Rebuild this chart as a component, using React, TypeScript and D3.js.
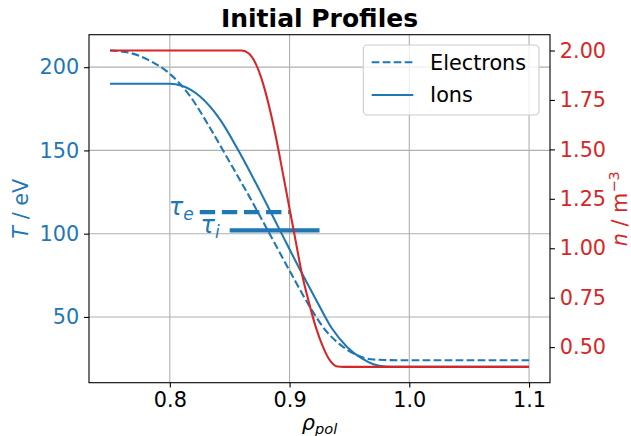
import React, { useRef, useEffect } from "react";
import * as d3 from "d3";

// electron temperature (dashed)
const RHO_E = [0.75, 0.767, 0.783, 0.8, 0.817, 0.834, 0.85, 0.867, 0.884, 0.901, 0.917, 0.93, 0.942, 0.955, 0.968, 0.98, 0.99, 1.1];
const T_E = [210, 208.5, 204, 196, 182.5, 163, 143, 121.5, 99, 76.5, 56, 42, 33.5, 27.5, 24.6, 24.1, 24, 24];

// ion temperature (solid)
const RHO_I = [0.75, 0.8, 0.81, 0.825, 0.842, 0.858, 0.875, 0.892, 0.909, 0.922, 0.935, 0.948, 0.96, 0.97, 0.98, 0.99, 1.1];
const T_I = [190, 190, 188.8, 182.5, 168.5, 149, 126, 102, 78, 60.5, 43.5, 32, 25.2, 21.6, 20.2, 20, 20];

// density (red, right axis)
const RHO_N = [0.75, 0.86, 0.866, 0.872, 0.878, 0.884, 0.89, 0.895, 0.9, 0.905, 0.91, 0.916, 0.922, 0.928, 0.934, 0.94, 0.945, 1.1];
const N_E = [2.0, 2.0, 1.985, 1.93, 1.83, 1.69, 1.52, 1.36, 1.2, 1.04, 0.88, 0.73, 0.6, 0.5, 0.43, 0.402, 0.4, 0.4];

// pedestal width markers
const TAU_E_RHO = [0.825, 0.9];
const TAU_E_T = 113;
const TAU_I_RHO = [0.85, 0.925];
const TAU_I_T = 102;

const X_TICKS = [0.8, 0.9, 1.0, 1.1];
const T_TICKS = [50, 100, 150, 200];
const N_TICKS = [0.5, 0.75, 1.0, 1.25, 1.5, 1.75, 2.0];

const BLUE = "#1f77b4";
const RED = "#d62728";
const FONT = "DejaVu Sans";

function App() {
  const svgRef = useRef<SVGSVGElement>(null);

  useEffect(() => {
    const width = 631;
    const height = 436;
    const m = { left: 89, right: 550, top: 34.7, bottom: 382.7 };

    const svg = d3.select(svgRef.current).attr("width", width).attr("height", height);
    svg.selectAll("*").remove();
    svg.style("font-family", FONT);

    const x = d3.scaleLinear().domain([0.7325, 1.1175]).range([m.left, m.right]);
    const yT = d3.scaleLinear().domain([10.5, 219.5]).range([m.bottom, m.top]);
    const yN = d3.scaleLinear().domain([0.32, 2.08]).range([m.bottom, m.top]);

    // grid
    const grid = svg.append("g").attr("stroke", "#b0b0b0").attr("stroke-width", 1.1);
    grid.selectAll("line.v").data(X_TICKS).enter().append("line")
      .attr("x1", (d) => x(d)).attr("x2", (d) => x(d))
      .attr("y1", m.top).attr("y2", m.bottom);
    grid.selectAll("line.h").data(T_TICKS).enter().append("line")
      .attr("x1", m.left).attr("x2", m.right)
      .attr("y1", (d) => yT(d)).attr("y2", (d) => yT(d));

    // temperature curves
    const lineT = d3.line<[number, number]>()
      .x((d) => x(d[0])).y((d) => yT(d[1]))
      .curve(d3.curveMonotoneX);
    svg.append("path")
      .attr("d", lineT(RHO_E.map((r, i) => [r, T_E[i]] as [number, number])))
      .attr("fill", "none").attr("stroke", BLUE).attr("stroke-width", 2.08)
      .attr("stroke-dasharray", "7.7,3.3");
    svg.append("path")
      .attr("d", lineT(RHO_I.map((r, i) => [r, T_I[i]] as [number, number])))
      .attr("fill", "none").attr("stroke", BLUE).attr("stroke-width", 2.08);

    // tau markers
    svg.append("line")
      .attr("x1", x(TAU_E_RHO[0])).attr("x2", x(TAU_E_RHO[1]))
      .attr("y1", yT(TAU_E_T)).attr("y2", yT(TAU_E_T))
      .attr("stroke", BLUE).attr("stroke-width", 4.2).attr("stroke-dasharray", "15.4,6.7");
    svg.append("line")
      .attr("x1", x(TAU_I_RHO[0])).attr("x2", x(TAU_I_RHO[1]))
      .attr("y1", yT(TAU_I_T)).attr("y2", yT(TAU_I_T))
      .attr("stroke", BLUE).attr("stroke-width", 4.2);

    const tauLabel = (xp: number, yp: number, sub: string) => {
      const t = svg.append("text")
        .attr("x", xp).attr("y", yp)
        .attr("text-anchor", "end")
        .attr("fill", BLUE)
        .style("font-size", "24px")
        .style("font-style", "italic");
      t.append("tspan").text("τ");
      t.append("tspan").attr("dy", 5).style("font-size", "17px").text(sub);
    };
    tauLabel(x(TAU_E_RHO[0]) - 6, yT(TAU_E_T) + 3, "e");
    tauLabel(x(TAU_I_RHO[0]) - 10, yT(TAU_I_T) + 3, "i");

    // density curve
    const lineN = d3.line<[number, number]>()
      .x((d) => x(d[0])).y((d) => yN(d[1]))
      .curve(d3.curveMonotoneX);
    svg.append("path")
      .attr("d", lineN(RHO_N.map((r, i) => [r, N_E[i]] as [number, number])))
      .attr("fill", "none").attr("stroke", RED).attr("stroke-width", 2.08);

    // axes
    const styleAxis = (g: any, color: string) => {
      g.select(".domain").remove();
      g.selectAll(".tick line").attr("stroke", "#000").attr("stroke-width", 1.1);
      g.selectAll(".tick text").attr("fill", color)
        .style("font-size", "20.8px").style("font-family", FONT);
    };
    svg.append("g")
      .attr("transform", `translate(0,${m.bottom})`)
      .call(d3.axisBottom(x).tickValues(X_TICKS).tickFormat(d3.format(".1f"))
        .tickSize(4.9).tickPadding(4.9).tickSizeOuter(0))
      .call((g: any) => styleAxis(g, "#000"));
    svg.append("g")
      .attr("transform", `translate(${m.left},0)`)
      .call(d3.axisLeft(yT).tickValues(T_TICKS).tickFormat(d3.format("d"))
        .tickSize(4.9).tickPadding(4.9).tickSizeOuter(0))
      .call((g: any) => styleAxis(g, BLUE));
    svg.append("g")
      .attr("transform", `translate(${m.right},0)`)
      .call(d3.axisRight(yN).tickValues(N_TICKS).tickFormat(d3.format(".2f"))
        .tickSize(4.9).tickPadding(4.9).tickSizeOuter(0))
      .call((g: any) => styleAxis(g, RED));

    // spines
    svg.append("rect")
      .attr("x", m.left).attr("y", m.top)
      .attr("width", m.right - m.left).attr("height", m.bottom - m.top)
      .attr("fill", "none").attr("stroke", "#000").attr("stroke-width", 1.1);

    // axis labels
    const cy = (m.top + m.bottom) / 2;
    const tl = svg.append("text")
      .attr("transform", `translate(28,${cy}) rotate(-90)`)
      .attr("text-anchor", "middle").attr("fill", BLUE).style("font-size", "20.8px");
    tl.append("tspan").style("font-style", "italic").text("T");
    tl.append("tspan").text(" / eV");

    const nl = svg.append("text")
      .attr("transform", `translate(627,${cy}) rotate(-90)`)
      .attr("text-anchor", "middle").attr("fill", RED).style("font-size", "20.8px");
    nl.append("tspan").style("font-style", "italic").text("n");
    nl.append("tspan").text(" / m");
    nl.append("tspan").attr("dy", -8).style("font-size", "14.6px").text("−3");

    const xl = svg.append("text")
      .attr("x", (m.left + m.right) / 2).attr("y", 430)
      .attr("text-anchor", "middle").attr("fill", "#000")
      .style("font-size", "20.8px").style("font-style", "italic");
    xl.append("tspan").text("ρ");
    xl.append("tspan").attr("dy", 4).style("font-size", "14.6px").text("pol");

    // title
    svg.append("text")
      .attr("x", (m.left + m.right) / 2).attr("y", 26.7)
      .attr("text-anchor", "middle")
      .style("font-size", "25px").style("font-weight", "bold")
      .text("Initial Profiles");

    // legend
    const lg = svg.append("g");
    lg.append("rect")
      .attr("x", 363.3).attr("y", 45).attr("width", 175.7).attr("height", 70)
      .attr("rx", 4).attr("fill", "#fff").attr("fill-opacity", 0.8)
      .attr("stroke", "#cccccc").attr("stroke-width", 1.1);
    const items = [
      { label: "Electrons", dash: "7.7,3.3", y: 62.3 },
      { label: "Ions", dash: null, y: 95 },
    ];
    items.forEach((it) => {
      lg.append("line")
        .attr("x1", 371.7).attr("x2", 413.3).attr("y1", it.y).attr("y2", it.y)
        .attr("stroke", BLUE).attr("stroke-width", 2.08)
        .attr("stroke-dasharray", it.dash);
      lg.append("text")
        .attr("x", 430).attr("y", it.y).attr("dy", "0.36em")
        .style("font-size", "20.8px").text(it.label);
    });
  }, []);

  return <svg ref={svgRef} style={{ position: "absolute", left: 0, top: 0 }}></svg>;
}

export default App;
